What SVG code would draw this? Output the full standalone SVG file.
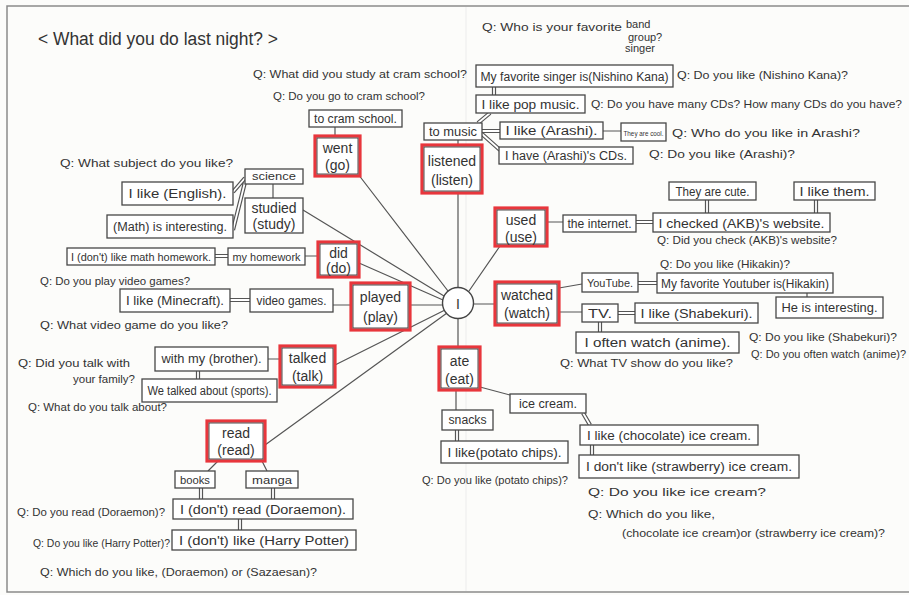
<svg xmlns="http://www.w3.org/2000/svg" width="909" height="595" viewBox="0 0 909 595">
<style>
.t{font-family:"Liberation Sans",Arial,sans-serif;fill:#333}
.q{font-size:11px}
.b{font-size:12px;text-anchor:middle}
.s{font-size:10.5px;text-anchor:middle}
.v{font-size:14px;text-anchor:middle}
.box{fill:#fff;stroke:#474747;stroke-width:1.3}
.verb{fill:#fff;stroke:#e8363c;stroke-width:3.2}
.vin{fill:none;stroke:#3a3a3a;stroke-width:0.9}
.ln{fill:none;stroke:#555;stroke-width:1.2}
.dO{fill:none;stroke:#555;stroke-width:4.2}
.dI{fill:none;stroke:#fff;stroke-width:1.8}
</style>
<rect x="0" y="0" width="909" height="595" fill="#fcfcfa"/>
<path d="M909,6 H7 V592 H909" fill="none" stroke="#8a8a8a" stroke-width="1.5"/>
<path d="M466,7 V591" stroke="#ececec" stroke-width="1"/>

<g id="connectors">
  <path class="ln" d="M335,127 V136 M358,174 L448,291 M458,193 V287 M458,140 V145 M303,210 L444,296 M359,263 L443,300 M410,305 H443 M500,246 L469,291 M474,304 H495 M458,319 V347 M335,365 L445,310 M265,445 L447,313 M305,256 H318 M333,305 H351 M268,359 H280 M218,461 L208,471 M262,461 L267,471 M603,131 H621 M547,222 H563 M559,288 L582,284 M559,312 H582 M807,293 V297 M456,390 V410 M480,387 L510,395 M273,184 V198"/>
  <path class="dO" d="M494,87 V95 M478,123 L490,113 M482,131 H500 M482,134 L500,150 M245,178 L233,192 M245,182 L233,230 M215,256 H228 M230,300 H250 M198,371 V379 M201,488 V499 M273,488 V499 M240,519 V530 M636,222 H653 M707,200 V213 M816,200 V213 M638,283 H657 M618,313 H635 M600,322 V332 M457,430 V441 M583,413 L590,425 M592,445 V455"/>
  <path class="dI" d="M494,87 V95 M478,123 L490,113 M482,131 H500 M482,134 L500,150 M245,178 L233,192 M245,182 L233,230 M215,256 H228 M230,300 H250 M198,371 V379 M201,488 V499 M273,488 V499 M240,519 V530 M636,222 H653 M707,200 V213 M816,200 V213 M638,283 H657 M618,313 H635 M600,322 V332 M457,430 V441 M583,413 L590,425 M592,445 V455"/>
</g>

<g id="title"><text class="t" x="38" y="45" font-size="18" textLength="240" lengthAdjust="spacingAndGlyphs">&lt; What did you do last night? &gt;</text></g>

<g id="center"><circle cx="458" cy="303" r="15.5" fill="#fff" stroke="#444" stroke-width="1.4"/><text class="t v" x="458" y="309" font-size="17">I</text></g>

<g id="went"><rect class="verb" x="315" y="136" width="45" height="40"/><rect class="vin" x="317" y="138" width="41" height="36"/><text class="t v" x="337.5" y="153">went</text><text class="t v" x="337.5" y="170">(go)</text></g>
<g id="listened"><rect class="verb" x="422" y="145" width="60" height="48"/><rect class="vin" x="424" y="147" width="56" height="44"/><text class="t v" x="452" y="166">listened</text><text class="t v" x="452" y="185">(listen)</text></g>
<g id="used"><rect class="verb" x="495" y="208" width="52" height="38"/><rect class="vin" x="497" y="210" width="48" height="34"/><text class="t v" x="521" y="225">used</text><text class="t v" x="521" y="242">(use)</text></g>
<g id="did"><rect class="verb" x="318" y="242" width="41" height="35"/><rect class="vin" x="320" y="244" width="37" height="31"/><text class="t v" x="338.5" y="258">did</text><text class="t v" x="338.5" y="273">(do)</text></g>
<g id="played"><rect class="verb" x="351" y="283" width="59" height="47"/><rect class="vin" x="353" y="285" width="55" height="43"/><text class="t v" x="380.5" y="302">played</text><text class="t v" x="380.5" y="322">(play)</text></g>
<g id="watched"><rect class="verb" x="495" y="282" width="64" height="43"/><rect class="vin" x="497" y="284" width="60" height="39"/><text class="t v" x="527" y="300">watched</text><text class="t v" x="527" y="318">(watch)</text></g>
<g id="talked"><rect class="verb" x="280" y="346" width="55" height="41"/><rect class="vin" x="282" y="348" width="51" height="37"/><text class="t v" x="307.5" y="363">talked</text><text class="t v" x="307.5" y="381">(talk)</text></g>
<g id="ate"><rect class="verb" x="439" y="347" width="41" height="43"/><rect class="vin" x="441" y="349" width="37" height="39"/><text class="t v" x="459.5" y="366">ate</text><text class="t v" x="459.5" y="384">(eat)</text></g>
<g id="read"><rect class="verb" x="207" y="421" width="58" height="40"/><rect class="vin" x="209" y="423" width="54" height="36"/><text class="t v" x="236" y="438">read</text><text class="t v" x="236" y="455">(read)</text></g>
<g id="studied"><rect class="box" x="245" y="198" width="58" height="35"/><text class="t v" x="274" y="213">studied</text><text class="t v" x="274" y="229">(study)</text></g>

<g id="cram"><rect class="box" x="309" y="110" width="93" height="17"/><text class="t b" x="355.5" y="123" font-size="11" textLength="83" lengthAdjust="spacingAndGlyphs">to cram school.</text></g>
<g id="singer"><rect class="box" x="476" y="65" width="197" height="22"/><text class="t b" x="574.5" y="81" font-size="13" textLength="188" lengthAdjust="spacingAndGlyphs">My favorite singer is(Nishino Kana)</text></g>
<g id="pop"><rect class="box" x="476" y="95" width="109" height="18"/><text class="t b" x="530.5" y="109" textLength="98" lengthAdjust="spacingAndGlyphs">I like pop music.</text></g>
<g id="tomusic"><rect class="box" x="424" y="123" width="58" height="17"/><text class="t b" x="453" y="136" textLength="48" lengthAdjust="spacingAndGlyphs">to music</text></g>
<g id="arashi"><rect class="box" x="500" y="122" width="103" height="17"/><text class="t b" x="551.5" y="135" textLength="92" lengthAdjust="spacingAndGlyphs">I like (Arashi).</text></g>
<g id="cool"><rect class="box" x="621" y="123" width="45" height="18"/><text class="t" x="623.5" y="135.5" font-size="7" textLength="40" lengthAdjust="spacingAndGlyphs">They are cool.</text></g>
<g id="cds"><rect class="box" x="499" y="147" width="134" height="17"/><text class="t b" x="566" y="160" textLength="122" lengthAdjust="spacingAndGlyphs">I have (Arashi)'s CDs.</text></g>
<g id="science"><rect class="box" x="245" y="169" width="58" height="15"/><text class="t s" x="274" y="180" textLength="44" lengthAdjust="spacingAndGlyphs">science</text></g>
<g id="english"><rect class="box" x="122" y="182" width="111" height="23"/><text class="t b" x="177.5" y="198" font-size="13" textLength="98" lengthAdjust="spacingAndGlyphs">I like (English).</text></g>
<g id="math"><rect class="box" x="107" y="215" width="126" height="23"/><text class="t b" x="170" y="231" font-size="13" textLength="114" lengthAdjust="spacingAndGlyphs">(Math) is interesting.</text></g>
<g id="mathhw"><rect class="box" x="67" y="248" width="148" height="17"/><text class="t s" x="141" y="261" textLength="140" lengthAdjust="spacingAndGlyphs">I (don't) like math homework.</text></g>
<g id="homework"><rect class="box" x="228" y="248" width="77" height="17"/><text class="t s" x="266.5" y="261" textLength="68" lengthAdjust="spacingAndGlyphs">my homework</text></g>
<g id="minecraft"><rect class="box" x="120" y="289" width="110" height="23"/><text class="t b" x="175" y="305" font-size="13" textLength="98" lengthAdjust="spacingAndGlyphs">I like (Minecraft).</text></g>
<g id="videogames"><rect class="box" x="250" y="289" width="83" height="23"/><text class="t b" x="291.5" y="305" font-size="13" textLength="70" lengthAdjust="spacingAndGlyphs">video games.</text></g>
<g id="brother"><rect class="box" x="155" y="347" width="113" height="24"/><text class="t b" x="211.5" y="363" textLength="100" lengthAdjust="spacingAndGlyphs">with my (brother).</text></g>
<g id="sports"><rect class="box" x="142" y="379" width="135" height="23"/><text class="t b" x="209.5" y="395" textLength="124" lengthAdjust="spacingAndGlyphs">We talked about (sports).</text></g>
<g id="books"><rect class="box" x="175" y="471" width="40" height="17"/><text class="t s" x="195" y="484" textLength="30" lengthAdjust="spacingAndGlyphs">books</text></g>
<g id="manga"><rect class="box" x="246" y="471" width="52" height="17"/><text class="t s" x="272" y="484" textLength="40" lengthAdjust="spacingAndGlyphs">manga</text></g>
<g id="doraemon"><rect class="box" x="173" y="499" width="180" height="20"/><text class="t b" x="263" y="514" textLength="166" lengthAdjust="spacingAndGlyphs">I (don't) read (Doraemon).</text></g>
<g id="harry"><rect class="box" x="172" y="530" width="184" height="20"/><text class="t b" x="264" y="545" textLength="170" lengthAdjust="spacingAndGlyphs">I (don't) like (Harry Potter)</text></g>
<g id="internet"><rect class="box" x="563" y="215" width="73" height="17"/><text class="t b" x="599.5" y="228" textLength="64" lengthAdjust="spacingAndGlyphs">the internet.</text></g>
<g id="akb"><rect class="box" x="653" y="213" width="177" height="19"/><text class="t b" x="741.5" y="228" font-size="13" textLength="166" lengthAdjust="spacingAndGlyphs">I checked (AKB)'s website.</text></g>
<g id="cute"><rect class="box" x="669" y="182" width="87" height="18"/><text class="t b" x="712.5" y="196" textLength="74" lengthAdjust="spacingAndGlyphs">They are cute.</text></g>
<g id="likethem"><rect class="box" x="794" y="182" width="81" height="18"/><text class="t b" x="834.5" y="196" textLength="70" lengthAdjust="spacingAndGlyphs">I like them.</text></g>
<g id="youtube"><rect class="box" x="582" y="273" width="56" height="19"/><text class="t s" x="610" y="287" textLength="46" lengthAdjust="spacingAndGlyphs">YouTube.</text></g>
<g id="hikakin"><rect class="box" x="657" y="273" width="176" height="20"/><text class="t b" x="745" y="288" textLength="168" lengthAdjust="spacingAndGlyphs">My favorite Youtuber is(Hikakin)</text></g>
<g id="interesting"><rect class="box" x="776" y="297" width="107" height="21"/><text class="t b" x="829.5" y="312" textLength="96" lengthAdjust="spacingAndGlyphs">He is interesting.</text></g>
<g id="tv"><rect class="box" x="582" y="304" width="36" height="18"/><text class="t b" x="600" y="318" textLength="24" lengthAdjust="spacingAndGlyphs">TV.</text></g>
<g id="shabekuri"><rect class="box" x="635" y="303" width="123" height="20"/><text class="t b" x="696.5" y="318" textLength="112" lengthAdjust="spacingAndGlyphs">I like (Shabekuri).</text></g>
<g id="anime"><rect class="box" x="576" y="332" width="163" height="21"/><text class="t b" x="657.5" y="347" font-size="13" textLength="146" lengthAdjust="spacingAndGlyphs">I often watch (anime).</text></g>
<g id="snacks"><rect class="box" x="442" y="410" width="51" height="20"/><text class="t b" x="467.5" y="424" textLength="38" lengthAdjust="spacingAndGlyphs">snacks</text></g>
<g id="icecream"><rect class="box" x="510" y="394" width="76" height="19"/><text class="t b" x="548" y="408" textLength="58" lengthAdjust="spacingAndGlyphs">ice cream.</text></g>
<g id="potato"><rect class="box" x="441" y="441" width="127" height="22"/><text class="t b" x="504.5" y="457" textLength="114" lengthAdjust="spacingAndGlyphs">I like(potato chips).</text></g>
<g id="chocolate"><rect class="box" x="580" y="425" width="178" height="20"/><text class="t b" x="669" y="440" textLength="164" lengthAdjust="spacingAndGlyphs">I like (chocolate) ice cream.</text></g>
<g id="strawberry"><rect class="box" x="579" y="455" width="220" height="23"/><text class="t b" x="689" y="471" textLength="206" lengthAdjust="spacingAndGlyphs">I don't like (strawberry) ice cream.</text></g>

<g id="questions">
<text class="t q" x="482" y="31" textLength="140" lengthAdjust="spacingAndGlyphs">Q: Who is your favorite</text>
<text class="t q" x="626" y="28" font-size="10">band</text>
<text class="t q" x="628" y="41" font-size="9">group</text>
<text class="t q" x="625" y="52" font-size="9">singer</text>
<text class="t q" x="656" y="41" font-size="13">?</text>
<text class="t q" x="253" y="78" textLength="214" lengthAdjust="spacingAndGlyphs">Q: What did you study at cram school?</text>
<text class="t q" x="273" y="100" font-size="10" textLength="152" lengthAdjust="spacingAndGlyphs">Q: Do you go to cram school?</text>
<text class="t q" x="677" y="79" textLength="171" lengthAdjust="spacingAndGlyphs">Q: Do you like (Nishino Kana)?</text>
<text class="t q" x="591" y="108" textLength="311" lengthAdjust="spacingAndGlyphs">Q: Do you have many CDs? How many CDs do you have?</text>
<text class="t q" x="672" y="137" textLength="188" lengthAdjust="spacingAndGlyphs">Q: Who do you like in Arashi?</text>
<text class="t q" x="649" y="158" textLength="146" lengthAdjust="spacingAndGlyphs">Q: Do you like (Arashi)?</text>
<text class="t q" x="60" y="167" textLength="173" lengthAdjust="spacingAndGlyphs">Q: What subject do you like?</text>
<text class="t q" x="40" y="285" textLength="150" lengthAdjust="spacingAndGlyphs">Q: Do you play video games?</text>
<text class="t q" x="40" y="329" textLength="188" lengthAdjust="spacingAndGlyphs">Q: What video game do you like?</text>
<text class="t q" x="18" y="367" textLength="112" lengthAdjust="spacingAndGlyphs">Q: Did you talk with</text>
<text class="t q" x="73" y="383" textLength="62" lengthAdjust="spacingAndGlyphs">your family?</text>
<text class="t q" x="28" y="411" font-size="10" textLength="139" lengthAdjust="spacingAndGlyphs">Q: What do you talk about?</text>
<text class="t q" x="17" y="516" font-size="10" textLength="148" lengthAdjust="spacingAndGlyphs">Q: Do you read (Doraemon)?</text>
<text class="t q" x="33" y="547" font-size="10" textLength="137" lengthAdjust="spacingAndGlyphs">Q: Do you like (Harry Potter)?</text>
<text class="t q" x="40" y="576" textLength="277" lengthAdjust="spacingAndGlyphs">Q: Which do you like, (Doraemon) or (Sazaesan)?</text>
<text class="t q" x="657" y="244" textLength="180" lengthAdjust="spacingAndGlyphs">Q: Did you check (AKB)'s website?</text>
<text class="t q" x="660" y="268" textLength="130" lengthAdjust="spacingAndGlyphs">Q: Do you like (Hikakin)?</text>
<text class="t q" x="560" y="367" textLength="173" lengthAdjust="spacingAndGlyphs">Q: What TV show do you like?</text>
<text class="t q" x="749" y="341" textLength="148" lengthAdjust="spacingAndGlyphs">Q: Do you like (Shabekuri)?</text>
<text class="t q" x="751" y="358" textLength="155" lengthAdjust="spacingAndGlyphs">Q: Do you often watch (anime)?</text>
<text class="t q" x="422" y="484" textLength="146" lengthAdjust="spacingAndGlyphs">Q: Do you like (potato chips)?</text>
<text class="t q" x="588" y="496" textLength="178" lengthAdjust="spacingAndGlyphs">Q: Do you like ice cream?</text>
<text class="t q" x="588" y="518" textLength="127" lengthAdjust="spacingAndGlyphs">Q: Which do you like,</text>
<text class="t q" x="622" y="537" textLength="263" lengthAdjust="spacingAndGlyphs">(chocolate ice cream)or (strawberry ice cream)?</text>
</g>
</svg>
